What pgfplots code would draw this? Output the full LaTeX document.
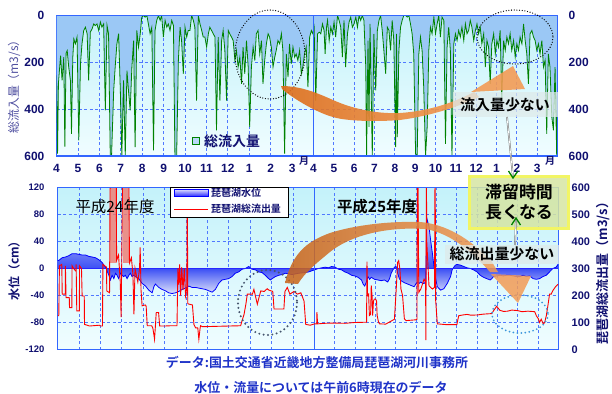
\documentclass[border=0pt]{standalone}
\usepackage{pgfplots}
\pgfplotsset{compat=1.18}
\usepackage{pgfplotstable}
\usepackage{fontspec}
\setmainfont{Liberation Sans}
\newfontfamily\jp{Noto Sans CJK JP}
\newfontfamily\jpb{Noto Sans CJK JP Bold}
\definecolor{navy}{RGB}{16,16,112}
\definecolor{frameblue}{RGB}{51,102,255}
\definecolor{gridblue}{RGB}{80,120,255}
\definecolor{areafill}{RGB}{155,200,245}
\definecolor{bgtop}{RGB}{196,242,250}
\definecolor{bgbot}{RGB}{240,253,255}
\definecolor{inflowgreen}{RGB}{0,130,0}
\definecolor{capblue}{RGB}{30,50,200}
\definecolor{ylab}{RGB}{80,80,160}
\definecolor{salmon}{RGB}{240,120,110}
\definecolor{odark}{RGB}{222,108,24}
\definecolor{omid}{RGB}{244,190,150}
\definecolor{olight}{RGB}{243,155,85}
\definecolor{boxfill}{RGB}{214,229,162}
\definecolor{glow}{RGB}{242,245,100}
\definecolor{lblfill}{RGB}{222,234,234}
\definecolor{levlight}{RGB}{220,224,250}
\definecolor{levdark}{RGB}{60,80,245}
\definecolor{ellgrey}{RGB}{70,85,110}
\definecolor{ellblue}{RGB}{60,150,220}
\pgfdeclareverticalshading{levshade}{100bp}{color(0bp)=(levlight); color(25bp)=(levlight); color(41.5bp)=(levdark); color(75bp)=(levlight); color(100bp)=(levlight)}

\pgfplotstableread{
m v
0.00 256
0.05 590
0.09 290
0.19 171
0.26 277
0.34 178
0.39 560
0.45 160
0.50 150
0.57 220
0.65 277
0.70 505
0.76 180
0.81 100
0.88 121
0.96 92
1.04 533
1.12 206
1.19 121
1.27 64
1.35 50
1.43 78
1.50 277
1.58 71
1.66 57
1.74 36
1.81 43
1.89 36
1.97 64
2.05 28
2.12 50
2.20 36
2.28 405
2.36 43
2.43 78
2.51 600
2.57 600
2.67 320
2.74 220
2.82 121
2.90 78
2.98 320
3.05 600
3.13 277
3.21 600
3.29 235
3.36 320
3.44 405
3.52 220
3.60 107
3.67 562
3.75 64
3.83 135
3.91 78
3.98 7
4.06 0
4.14 7
4.22 0
4.29 36
4.37 78
4.45 50
4.53 576
4.60 64
4.68 21
4.76 0
4.84 21
4.91 0
4.99 92
5.07 21
5.15 50
5.22 36
5.30 64
5.38 21
5.46 43
5.53 600
5.61 600
5.69 192
5.77 50
5.84 107
5.92 249
6.00 50
6.08 92
6.15 64
6.23 64
6.31 0
6.39 21
6.46 50
6.54 363
6.62 0
6.70 36
6.78 64
6.85 92
6.93 92
7.01 135
7.09 78
7.16 50
7.24 64
7.32 78
7.40 92
7.47 490
7.55 92
7.63 363
7.71 107
7.78 64
7.86 149
7.94 363
8.02 64
8.09 78
8.17 92
8.25 107
8.33 192
8.40 149
8.48 220
8.56 178
8.64 292
8.71 135
8.79 249
8.87 107
8.95 220
9.02 476
9.10 220
9.18 135
9.26 192
9.33 78
9.41 64
9.49 164
9.57 107
9.64 292
9.72 192
9.80 121
9.88 78
9.95 92
10.03 135
10.11 220
10.19 178
10.26 149
10.34 107
10.42 121
10.50 78
10.57 149
10.65 590
10.73 164
10.81 263
10.88 121
10.96 206
11.04 135
11.12 178
11.19 164
11.27 192
11.35 149
11.43 249
11.50 220
11.58 164
11.66 135
11.74 306
11.82 92
11.90 64
11.97 78
12.03 50
12.11 363
12.20 78
12.28 71
12.36 78
12.44 36
12.52 64
12.57 164
12.64 50
12.69 21
12.77 107
12.85 50
12.93 78
13.01 28
13.09 92
13.18 0
13.26 21
13.34 50
13.42 178
13.50 21
13.58 220
13.67 78
13.75 28
13.83 7
13.91 50
13.99 36
14.08 7
14.16 50
14.24 0
14.32 21
14.40 0
14.48 21
14.57 220
14.61 600
14.68 107
14.73 476
14.78 36
14.89 600
14.97 78
15.06 320
15.14 64
15.22 21
15.30 0
15.38 64
15.46 149
15.55 249
15.63 50
15.71 64
15.79 149
15.87 21
15.95 107
16.04 562
16.08 78
16.12 519
16.20 149
16.28 50
16.36 21
16.44 0
16.53 0
16.61 7
16.69 0
16.77 36
16.85 78
16.93 164
17.02 590
17.10 600
17.18 164
17.26 92
17.34 149
17.42 306
17.51 600
17.59 476
17.67 149
17.75 50
17.83 78
17.92 7
18.00 78
18.08 36
18.16 0
18.24 92
18.32 7
18.41 21
18.49 548
18.57 135
18.65 50
18.73 149
18.81 600
18.90 121
18.98 78
19.06 107
19.14 64
19.22 92
19.30 50
19.39 107
19.47 36
19.55 78
19.63 64
19.71 21
19.79 50
19.88 107
19.96 64
20.04 36
20.12 78
20.20 50
20.28 121
20.37 78
20.45 220
20.53 107
20.61 135
20.69 292
20.77 121
20.86 78
20.94 164
21.02 107
21.10 135
21.18 64
21.26 363
21.35 107
21.43 149
21.51 92
21.59 121
21.67 78
21.75 149
21.84 107
21.92 178
22.00 121
22.08 149
22.16 92
22.25 121
22.33 36
22.41 107
22.49 164
22.57 292
22.65 78
22.74 64
22.82 92
22.90 107
22.98 149
23.06 121
23.14 164
23.23 107
23.31 220
23.39 192
23.47 505
23.55 164
23.63 220
23.72 434
23.80 490
23.88 220
23.96 600
24.00 300
}\inflow

\pgfplotstableread{
m v
0.00 12
0.06 12
0.22 16
0.37 17
0.53 19
0.68 22
0.84 22
1.00 21
1.15 20
1.31 20
1.46 18
1.62 17
1.77 16
1.93 13
2.08 9
2.24 2
2.40 -10
2.47 -17
2.55 -10
2.63 -15
2.71 -7
2.78 -10
2.86 -15
2.94 -7
3.02 -10
3.09 -12
3.17 -10
3.25 -15
3.33 -10
3.40 -7
3.48 -12
3.56 -10
3.64 -12
3.79 -15
3.95 -22
4.11 -26
4.26 -32
4.42 -36
4.50 -27
4.57 -23
4.73 -28
4.88 -31
5.04 -33
5.19 -36
5.35 -37
5.51 -36
5.66 -34
5.82 -31
5.97 -29
6.13 -26
6.28 -28
6.44 -28
6.59 -29
6.75 -30
6.91 -31
7.06 -33
7.22 -35
7.37 -31
7.53 -22
7.68 -17
7.84 -16
7.99 -15
8.15 -12
8.30 -7
8.46 -5
8.62 -1
8.77 0
8.93 3
9.08 -1
9.24 -2
9.39 -5
9.55 -6
9.70 -10
9.86 -15
9.94 -17
10.02 -15
10.17 -12
10.33 -10
10.48 -9
10.64 -7
10.79 -8
10.95 -9
11.10 -8
11.26 -7
11.57 -6
11.73 -5
12.00 -2
12.19 0
12.36 1
12.52 2
12.68 1
12.84 3
13.01 2
13.17 -1
13.33 -2
13.49 -5
13.66 -7
13.82 -10
13.98 -11
14.14 -13
14.31 -17
14.39 -23
14.47 -26
14.55 -20
14.63 -12
14.71 -16
14.79 -13
14.95 -16
15.12 -17
15.28 -18
15.44 -17
15.60 -20
15.69 -15
15.77 -7
15.93 2
16.01 3
16.09 -7
16.17 -15
16.25 -18
16.42 -21
16.58 -23
16.74 -25
16.90 -27
16.98 -23
17.06 -20
17.15 -22
17.23 -20
17.31 -22
17.39 -22
17.47 -20
17.52 75
17.63 62
17.71 42
17.80 22
17.88 2
17.96 -15
18.04 -27
18.20 -32
18.36 -30
18.53 -22
18.69 -12
18.77 -2
18.85 2
18.93 5
19.01 6
19.18 5
19.34 3
19.50 1
19.66 0
19.82 -2
19.99 -5
20.15 -10
20.31 -13
20.47 -15
20.64 -17
20.72 -15
20.80 -12
20.96 -11
21.12 -10
21.29 -11
21.45 -10
21.61 -10
21.77 -11
21.94 -12
22.10 -12
22.26 -10
22.42 -12
22.58 -11
22.75 -15
22.91 -16
23.07 -15
23.23 -12
23.40 -10
23.56 -5
23.72 0
23.88 2
24.00 7
}\level

\pgfplotstableread{
m v
0.00 125
0.06 125
0.09 310
0.20 315
0.22 205
0.36 205
0.37 310
0.40 192
0.55 192
0.56 155
0.67 155
0.68 310
0.75 300
0.86 290
0.87 315
0.90 143
1.02 143
1.03 310
1.12 300
1.15 198
1.25 198
1.26 93
1.50 87
1.96 90
2.00 87
2.10 87
2.12 315
2.29 305
2.30 217
2.43 210
2.46 700
2.74 700
2.76 330
2.85 350
2.93 250
2.97 120
3.00 330
3.05 700
3.33 700
3.36 320
3.45 340
3.52 280
3.57 130
3.62 300
3.75 250
3.83 300
3.86 378
3.90 220
3.95 162
4.10 165
4.14 160
4.19 88
4.40 88
4.45 80
4.50 55
4.53 38
4.57 85
4.61 137
4.72 137
4.77 87
5.00 87
5.30 88
5.58 88
5.62 300
5.66 240
5.70 315
5.75 200
5.80 305
5.86 220
5.92 300
5.98 200
6.04 230
6.06 700
6.08 170
6.14 168
6.30 165
6.37 93
6.45 80
6.55 80
6.60 38
6.66 80
6.68 88
6.76 85
7.00 85
7.50 86
8.00 87
8.55 88
8.63 110
8.71 130
8.80 170
8.86 205
9.10 205
9.17 223
9.25 195
9.33 168
9.40 190
9.49 217
9.65 215
9.79 225
9.87 220
10.05 215
10.11 150
10.57 150
10.62 215
10.73 230
10.85 205
11.04 215
11.20 205
11.36 210
11.51 180
11.59 93
11.80 90
12.00 95
12.11 95
12.12 138
12.15 95
12.50 97
13.00 98
13.50 97
13.98 100
14.50 101
14.56 101
14.58 325
14.61 200
14.66 205
14.70 126
14.76 130
14.79 237
14.83 200
14.86 126
14.90 180
14.95 187
15.00 187
15.05 180
15.08 126
15.15 101
15.20 95
15.50 94
15.93 112
16.01 212
16.09 323
16.14 329
16.20 298
16.25 224
16.33 200
16.42 113
16.50 107
16.98 110
17.04 112
17.06 700
17.10 500
17.13 212
17.23 224
17.39 261
17.46 250
17.48 35
17.50 700
17.52 400
17.63 236
17.80 224
17.90 230
17.93 700
17.96 180
18.04 95
18.50 92
19.00 92
19.09 125
19.30 128
19.50 130
19.70 127
20.00 128
20.30 131
20.50 132
20.72 133
20.80 143
20.96 160
21.12 145
21.30 141
21.50 142
21.70 146
22.00 144
22.20 140
22.50 142
22.83 140
22.91 125
23.00 115
23.07 100
23.15 112
23.25 95
23.32 100
23.40 125
23.48 163
23.56 205
23.64 205
23.72 218
23.85 232
24.00 243
}\outflow

\pgfplotsset{
  base/.style={scale only axis, width=501bp, xmin=0, xmax=24,
    x coord trafo/.code={\pgfmathparse{##1<=12 ? 1.026*##1 : 12.312+0.974*(##1-12)}},
    major tick length=0pt,
    axis line style={draw=frameblue, line width=1.3pt},
    tick label style={text=navy},
    /pgf/number format/assume math mode=true},
  gridsty/.style={grid=major, grid style={gridblue, dash pattern=on 3bp off 2.5bp, line width=0.7pt}},
}

\begin{document}
\begin{tikzpicture}
\path[use as bounding box] (0,0) rectangle (612bp,-394bp);

% ---------- top panel: inflow ----------
\begin{axis}[base, gridsty, at={(56.5bp,-156bp)}, anchor=south west, height=140.5bp,
  ymin=0, ymax=600, y dir=reverse, ytick={0,200,400,600},
  xtick={0,...,23},
  xticklabels={4,5,6,7,8,9,10,11,12,1,2,3,4,5,6,7,8,9,10,11,12,1,2,3},
  xticklabel style={font=\bfseries\fontsize{12}{12}\selectfont, inner sep=0pt, yshift=-8bp},
  yticklabel style={font=\bfseries\fontsize{12}{12}\selectfont, inner sep=0pt, xshift=-12bp},
  axis background/.style={top color=bgtop, bottom color=bgbot}]
\addplot[fill=areafill, draw=none] table {\inflow} -- (axis cs:24,0) -- (axis cs:0,0) -- cycle;
\addplot[inflowgreen, line width=0.8pt] table {\inflow};
\draw[frameblue, line width=1.3pt] (rel axis cs:0.513,0) -- (rel axis cs:0.513,1);
\draw[frameblue, line width=1.3pt] (rel axis cs:0,0) rectangle (rel axis cs:1,1);
\end{axis}
\begin{axis}[base, at={(56.5bp,-156bp)}, anchor=south west, height=140.5bp,
  ymin=0, ymax=600, y dir=reverse, ytick={0,200,400,600},
  axis y line*=right, axis x line=none,
  yticklabel style={font=\bfseries\fontsize{12}{12}\selectfont, inner sep=0pt, xshift=11bp}]
\end{axis}

% ---------- bottom panel: lake level ----------
\begin{axis}[base, gridsty, at={(57.5bp,-349.5bp)}, anchor=south west, height=162bp,
  ymin=-120, ymax=120, ytick={-120,-80,...,120},
  xtick={0,...,23}, xticklabels={},
  yticklabel style={font=\bfseries\fontsize{9.5}{9.5}\selectfont, inner sep=0pt, xshift=-13bp},
  axis background/.style={top color=bgtop, bottom color=bgbot}]
\addplot[shading=levshade, draw=none] table {\level} -- (axis cs:24,0) -- (axis cs:0,0) -- cycle;
\addplot[blue, line width=0.8pt] table {\level};
\draw[blue!85!white, line width=1.2pt] (rel axis cs:0,0.5) -- (rel axis cs:1,0.5);
\draw[frameblue, line width=1.3pt] (rel axis cs:0.513,0) -- (rel axis cs:0.513,1);
\end{axis}

% ---------- bottom panel: outflow (right axis) ----------
\begin{axis}[base, at={(57.5bp,-349.5bp)}, anchor=south west, height=162bp,
  ymin=0, ymax=600, ytick={0,100,...,600},
  axis y line*=right, axis x line=none,
  yticklabel style={font=\bfseries\fontsize{11}{11}\selectfont, inner sep=0pt, xshift=13bp}]
\addplot[fill=salmon, fill opacity=0.8, draw=none] coordinates {(2.47,320) (2.47,650) (2.73,650) (2.73,320)} -- cycle;
\addplot[fill=salmon, fill opacity=0.8, draw=none] coordinates {(3.06,320) (3.06,650) (3.32,650) (3.32,320)} -- cycle;
\addplot[fill=salmon, fill opacity=0.7, draw=none] coordinates {(17.06,230) (17.06,650) (17.14,650) (17.14,230)} -- cycle;
\addplot[red, line width=0.9pt] table {\outflow};
\draw[frameblue, line width=1.3pt] (rel axis cs:0,0) rectangle (rel axis cs:1,1);
\end{axis}

% ---------- annotations (image pixel coordinates) ----------
\begin{scope}[x=1bp, y=-1bp]
\node[font=\jpb\fontsize{10}{10}\selectfont, text=navy] at (304,161) {月};
\node[font=\jpb\fontsize{10}{10}\selectfont, text=navy] at (550,161) {月};
\node[rotate=90, text=ylab, font=\jp\fontsize{12}{12}\selectfont] at (14,84) {総流入量（m3/s）};
\node[rotate=90, text=navy, font=\jpb\fontsize{12}{12}\selectfont] at (14,268) {水位（cm）};
\node[rotate=90, text=navy, font=\jpb\fontsize{13}{13}\selectfont] at (603,270) {琵琶湖総流出量（m3/s）};
\draw[draw=inflowgreen, fill=areafill!70!white, line width=0.8pt] (192,137) rectangle (199,144);
\node[anchor=west, font=\jpb\fontsize{14}{14}\selectfont, text=navy, inner sep=0pt] at (204,141) {総流入量};
\draw[black, line width=0.8pt, fill=white] (170,187) rectangle (288,217);
\shade[top color=blue!10!white, bottom color=blue!80!white] (174,189) rectangle (208,196);
\draw[blue, line width=0.6pt] (174,189) rectangle (208,196);
\node[anchor=west, font=\jpb\fontsize{10}{10}\selectfont, text=navy, inner sep=0pt] at (211,192.5) {琵琶湖水位};
\draw[red, line width=1pt] (174,209) -- (208,209);
\node[anchor=west, font=\jpb\fontsize{10}{10}\selectfont, text=navy, inner sep=0pt] at (211,209) {琵琶湖総流出量};
\node[font=\jp\fontsize{15.5}{16}\selectfont] at (115,207) {平成24年度};
\node[font=\jpb\fontsize{15.5}{16}\selectfont] at (377,207) {平成25年度};
\draw[black, line width=1.3pt, line cap=round, dash pattern=on 0pt off 2.7pt] (270,54.5) ellipse [x radius=35, y radius=44.5];
\draw[black, line width=1.3pt, line cap=round, dash pattern=on 0pt off 2.7pt] (515,37) ellipse [x radius=38, y radius=27];
\draw[ellgrey, line width=2.2pt, line cap=round, dash pattern=on 0pt off 4.4pt] (267.5,302.5) ellipse [x radius=29.5, y radius=32.5];
\draw[ellblue, line width=2pt, line cap=round, dash pattern=on 0pt off 4pt] (520,314) ellipse [x radius=28, y radius=19];
\shade[left color=odark, middle color=omid, right color=olight, opacity=0.9]
  (281,86) .. controls (300,86) and (315,92) .. (333,100)
  .. controls (355,110) and (380,114) .. (400,113)
  .. controls (430,111) and (455,102) .. (474,92)
  -- (479,97) .. controls (458,107) and (430,116) .. (400,120)
  .. controls (375,122) and (345,121) .. (333,117)
  .. controls (318,113) and (295,100) .. (282,89) -- cycle;
\fill[olight, opacity=0.9] (471,92) -- (513,66) -- (525,89) -- cycle;
\shade[left color=odark!90!black, middle color=omid, right color=olight, opacity=0.85]
  (285,283) .. controls (292,255) and (305,242) .. (330,233)
  .. controls (355,225) and (390,221) .. (420,222)
  .. controls (445,224) and (470,238) .. (492,262)
  -- (498,272) -- (490,272)
  .. controls (475,255) and (452,233) .. (425,229)
  .. controls (395,227) and (355,232) .. (330,252)
  .. controls (318,262) and (305,272) .. (298,284) -- cycle;
\fill[olight, opacity=0.85] (491,274) -- (531,276) -- (518,303) -- cycle;
\node[fill=lblfill, fill opacity=0.75, text opacity=1, inner sep=0pt, minimum width=105bp, minimum height=25bp,
  font=\jpb\fontsize{15}{15}\selectfont] at (505,104.5) {流入量少ない};
\node[fill=boxfill, fill opacity=0.85, text opacity=1, draw=glow, draw opacity=1, line width=3.5pt, inner sep=0pt, minimum width=99bp, minimum height=52bp, align=center,
  font=\jpb\fontsize{17}{20}\selectfont] at (519,202.5) {滞留時間\\長くなる};
\node[fill=lblfill, fill opacity=0.75, text opacity=1, inner sep=0pt, minimum width=113bp, minimum height=19bp,
  font=\jpb\fontsize{15}{15}\selectfont] at (502,254) {総流出量少ない};
\draw[black!55, double=white, double distance=0.7pt, line width=0.5pt] (507,117) -- (513,177);
\draw[green!50!black, line width=1.3pt] (508.5,171) -- (513,178) -- (518,171);
\draw[black!55, double=white, double distance=0.7pt, line width=0.5pt] (515,245) -- (516,219);
\draw[green!50!black, line width=1.3pt] (511.5,225) -- (516,218) -- (520.5,225);
\node[text=capblue, font=\jpb\fontsize{13}{13}\selectfont] at (317,363) {データ:国土交通省近畿地方整備局琵琶湖河川事務所};
\node[text=capblue, font=\jpb\fontsize{13}{13}\selectfont] at (321,387) {水位・流量については午前6時現在のデータ};
\end{scope}
\end{tikzpicture}
\end{document}
